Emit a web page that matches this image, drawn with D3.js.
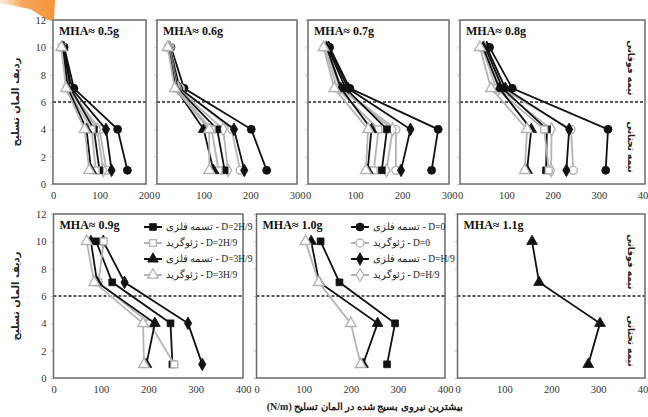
<!DOCTYPE html>
<html>
<head>
<meta charset="utf-8">
<script src="https://cdn.jsdelivr.net/npm/d3@7"></script>
<style>
  html, body { margin: 0; padding: 0; background: #ffffff; }
  svg { display: block; }
</style>
</head>
<body>
<svg id="chart" width="648" height="417"></svg>
<script>
// Reinforcement rows where the peak force was recorded
const rowLevels = [10, 7, 4, 1];
const yTicks = [0, 2, 4, 6, 8, 10, 12];
const boundaryLevel = 6;

const panelTitles = ["MHA≈ 0.5g", "MHA≈ 0.6g", "MHA≈ 0.7g", "MHA≈ 0.8g",
                     "MHA≈ 0.9g", "MHA≈ 1.0g", "MHA≈ 1.1g"];
const panelXMax = [200, 300, 300, 400, 400, 400, 400];

// Peak mobilised force (N/m) at rows 10, 7, 4, 1 — one entry per panel, null = not tested
const steelD0  = [[24, 45, 139, 160], [30, 58, 202, 235], [46, 89, 277, 263], [64, 113, 320, 315], null, null, null];
const geoD0    = [[20, 35, 100, 115], [28, 50, 160, 178], [40, 72, 187, 187], [55, 90, 240, 245], null, null, null];
const steelH9  = [[23, 40, 114, 126], [27, 48, 165, 187], [44, 85, 218, 198], [58, 98, 236, 230], [105, 150, 284, 314], null, null];
const geoH9    = [[20, 33, 95, 108], [26, 45, 142, 152], [38, 68, 180, 167], [52, 84, 198, 197], null, null, null];
const steel2H9 = [[22, 38, 88, 100], [25, 44, 129, 145], [42, 80, 168, 157], [55, 92, 188, 186], [90, 124, 247, 251], [136, 176, 294, 277], null];
const geo2H9   = [[19, 30, 83, 92], [25, 42, 117, 132], [36, 62, 150, 140], [48, 78, 182, 192], [106, 95, 203, 255], null, null];
const steel3H9 = [[21, 32, 72, 82], [24, 40, 100, 121], [40, 70, 135, 127], [50, 85, 154, 145], [79, 92, 214, 196], [116, 133, 257, 226], [159, 174, 304, 279]];
const geo3H9   = [[18, 28, 68, 78], [23, 38, 112, 112], [33, 56, 128, 123], [43, 67, 145, 140], [70, 86, 189, 191], [104, 132, 200, 221], null];

const seriesLabels = ["تسمه فلزی - D=0", "ژئوگرید - D=0", "تسمه فلزی - D=H/9", "ژئوگرید - D=H/9",
                      "تسمه فلزی - D=2H/9", "ژئوگرید - D=2H/9", "تسمه فلزی - D=3H/9", "ژئوگرید - D=3H/9"];

const yTitle = "ردیف المان تسلیح";
const xTitle = "(N/m) بیشترین نیروی بسیج شده در المان تسلیح";
const upperHalf = "نیمه فوقانی";
const lowerHalf = "نیمه تحتانی";

// ---- layout & style -------------------------------------------------------
const svg = d3.select("#chart");
const BLACK = "#111111", GREY = "#b4b4b4", FRAME = "#6a6a6a";
const serif = "'Liberation Serif', 'Times New Roman', serif";
const arabic = "'DejaVu Sans', sans-serif";

// plot rectangles [left, right, top, bottom]
const panelBoxes = [
  [53, 146, 20, 184], [157, 297, 20, 184], [308, 449, 20, 184], [460, 645, 20, 184],
  [53.5, 243, 214, 378], [256.5, 445, 214, 378], [457.5, 645, 214, 378]
];

const series = [
  { values: steelD0,  symbol: d3.symbolCircle,   steel: true,  size: 50 },
  { values: geoD0,    symbol: d3.symbolCircle,   steel: false, size: 50 },
  { values: steelH9,  symbol: d3.symbolDiamond,  steel: true,  size: 46 },
  { values: geoH9,    symbol: d3.symbolDiamond,  steel: false, size: 46 },
  { values: steel2H9, symbol: d3.symbolSquare,   steel: true,  size: 46 },
  { values: geo2H9,   symbol: d3.symbolSquare,   steel: false, size: 46 },
  { values: steel3H9, symbol: d3.symbolTriangle, steel: true,  size: 50 },
  { values: geo3H9,   symbol: d3.symbolTriangle, steel: false, size: 50 }
].map((s, i) => ({ ...s, label: seriesLabels[i] }));

// decorative corner accent
const defs = svg.append("defs");
const grad = defs.append("linearGradient").attr("id", "accent")
  .attr("x1", "0").attr("y1", "0").attr("x2", "1").attr("y2", "0");
grad.append("stop").attr("offset", "0%").attr("stop-color", "#fbd9b8").attr("stop-opacity", 0.6);
grad.append("stop").attr("offset", "40%").attr("stop-color", "#f7a65a");
grad.append("stop").attr("offset", "100%").attr("stop-color", "#f5953d");
svg.append("polygon")
  .attr("points", "0,0 55,0 54,20 48,20 30,9 0,3")
  .attr("fill", "url(#accent)");

panelBoxes.forEach((box, p) => {
  const [l, r, t, b] = box;
  const x = d3.scaleLinear().domain([0, panelXMax[p]]).range([l, r]);
  const y = d3.scaleLinear().domain([0, 12]).range([b, t]);
  const g = svg.append("g");

  // y axis (labels only on the first column)
  const firstCol = (p === 0 || p === 4);
  const yAxis = g.append("g").attr("transform", `translate(${l},0)`)
    .call(d3.axisLeft(y).tickValues(yTicks).tickSize(3).tickPadding(4)
      .tickFormat(firstCol ? d3.format("d") : () => ""));
  yAxis.select(".domain").remove();
  yAxis.selectAll("line").attr("stroke", "#c4c4c4");
  yAxis.selectAll("text").attr("font-family", serif).attr("font-size", 10.5).attr("fill", "#333");

  // x axis
  const xAxis = g.append("g").attr("transform", `translate(0,${b})`)
    .call(d3.axisBottom(x).tickValues(d3.range(0, panelXMax[p] + 1, 100)).tickSize(0).tickPadding(8));
  xAxis.select(".domain").remove();
  xAxis.selectAll("text").attr("font-family", serif).attr("font-size", 10.5).attr("fill", "#333");

  // boundary between lower and upper halves
  g.append("line")
    .attr("x1", l).attr("x2", r).attr("y1", y(boundaryLevel)).attr("y2", y(boundaryLevel))
    .attr("stroke", "#222").attr("stroke-width", 1.4).attr("stroke-dasharray", "3,2");

  // series
  const line = d3.line().x(d => x(d[0])).y(d => y(d[1]));
  series.forEach(s => {
    const vals = s.values[p];
    if (!vals) return;
    const pts = vals.map((v, i) => [v, rowLevels[i]]);
    const col = s.steel ? BLACK : GREY;
    g.append("path").attr("d", line(pts)).attr("fill", "none")
      .attr("stroke", col).attr("stroke-width", 1.8);
    g.selectAll(null).data(pts).join("path")
      .attr("transform", d => `translate(${x(d[0])},${y(d[1])})`)
      .attr("d", d3.symbol().type(s.symbol).size(s.size))
      .attr("fill", s.steel ? BLACK : "#ffffff")
      .attr("stroke", col).attr("stroke-width", s.steel ? 0.8 : 1.4);
  });

  // frame
  g.append("rect").attr("x", l).attr("y", t).attr("width", r - l).attr("height", b - t)
    .attr("fill", "none").attr("stroke", FRAME).attr("stroke-width", 1.5);

  // panel title
  g.append("text").attr("x", l + 6).attr("y", t + 15)
    .attr("font-family", serif).attr("font-weight", "bold").attr("font-size", 12)
    .attr("fill", "#111").text(panelTitles[p]);

  // half labels on the right-hand panels
  if (p === 3 || p === 6) {
    [[upperHalf, 8.5], [lowerHalf, 2.7]].forEach(([txt, lvl]) => {
      g.append("text")
        .attr("transform", `translate(${r - 14},${y(lvl)}) rotate(90)`)
        .attr("text-anchor", "middle").attr("dy", "0.35em")
        .attr("font-family", arabic).attr("font-weight", "bold").attr("font-size", 9)
        .attr("fill", "#222").text(txt);
    });
  }
});

// legends
function legend(items, lx, rows) {
  items.forEach((s, i) => {
    const yy = rows[i];
    const col = s.steel ? BLACK : GREY;
    svg.append("line").attr("x1", lx).attr("x2", lx + 18).attr("y1", yy).attr("y2", yy)
      .attr("stroke", col).attr("stroke-width", 2);
    svg.append("path").attr("transform", `translate(${lx + 9},${yy})`)
      .attr("d", d3.symbol().type(s.symbol).size(s.size))
      .attr("fill", s.steel ? BLACK : "#fff").attr("stroke", col).attr("stroke-width", s.steel ? 0.8 : 1.3);
    svg.append("text").attr("x", lx + 22).attr("y", yy).attr("dy", "0.35em")
      .attr("font-family", serif).attr("font-size", 9.5).attr("fill", "#222")
      .text(s.label);
  });
}
const legendRows = [227, 243, 259, 275];
legend(series.slice(4, 8), 144, legendRows);
legend(series.slice(0, 4), 351, legendRows);

// axis titles
[102, 296].forEach(cy => {
  svg.append("text").attr("transform", `translate(15,${cy}) rotate(-90)`)
    .attr("text-anchor", "middle").attr("dy", "0.35em")
    .attr("font-family", arabic).attr("font-weight", "bold").attr("font-size", 10)
    .attr("fill", "#222").text(yTitle);
});
svg.append("text").attr("x", 365).attr("y", 410).attr("text-anchor", "middle")
  .attr("font-family", `${serif}`).attr("font-weight", "bold").attr("font-size", 10)
  .attr("fill", "#222").text(xTitle);
</script>
</body>
</html>
